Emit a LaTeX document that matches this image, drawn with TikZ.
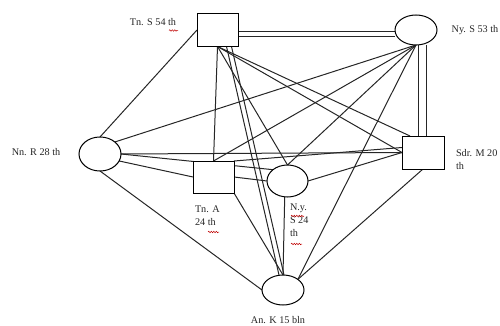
\documentclass[tikz,border=0pt]{standalone}
\usepackage{fontspec}
\setmainfont{Liberation Serif}
\usetikzlibrary{shapes.geometric,backgrounds,decorations.pathmorphing}
\begin{document}
\begin{tikzpicture}[x=1pt,y=-1pt,
  every node/.style={inner sep=0pt, outer sep=0pt},
  box/.style={draw, fill=white, line width=1pt, minimum width=41pt, minimum height=33pt},
  oval/.style={draw, fill=white, ellipse, line width=1pt, minimum width=42pt, minimum height=30pt},
  link/.style={line width=1pt, draw=black!85},
  lbl/.style={font=\fontsize{10.2}{13}\selectfont, align=left, text=black!85},
  squig/.style={red!75!black, line width=0.5pt, decorate,
    decoration={snake, amplitude=0.7pt, segment length=2.5pt}}
]
\useasboundingbox (0,0) rectangle (500,326);

% actors
\node[box] (tns) at (217.5,30) {};
\node[oval] (nys) at (416,30) {};
\node[oval, minimum height=34pt] (nnr) at (100,154) {};
\node[box, minimum height=32pt] (tna) at (213.5,177) {};
\node[oval, minimum width=41pt, minimum height=32pt] (nys24) at (287.5,181) {};
\node[box, minimum width=42pt] (sdr) at (423,152.5) {};
\node[oval] (ank) at (283,290) {};

% names and ages
\node[lbl] (tnsl) at (153,22) {Tn. S 54 th};
\node[lbl] (nysl) at (475,30) {Ny. S 53 th};
\node[lbl] (nnrl) at (36,152) {Nn. R 28 th};
\node[lbl, anchor=north west] (tnal) at (195,206) {Tn. A\\24 th};
\node[lbl, anchor=north west] (nys24l) at (290,204) {N.y.\\S 24\\th};
\node[lbl, anchor=north west] (sdrl) at (456,149) {Sdr. M 20\\th};
\node[lbl] (ankl) at (278,320) {An. K 15 bln};

% ties between the actors
\begin{pgfonlayer}{background}
% double ties
\draw[link] ([yshift=-2pt]tns.east) -- ([yshift=-2pt]nys.west);
\draw[link] ([yshift=-7pt]tns.east) -- ([yshift=-7pt]nys.west);
\draw[link] ([xshift=2pt]nys.south) -- ([xshift=-5pt]sdr.north);
\draw[link] ([xshift=10pt]nys.south) -- ([xshift=3pt]sdr.north);
\draw[link] ([xshift=9pt]tns.south) -- ([xshift=-4pt]ank.north);
\draw[link] ([xshift=14pt]tns.south) -- ([xshift=1pt]ank.north);
% single ties
\draw[link] (tns.west) -- (nnr.north);
\draw[link] (tns.south) -- (tna.north);
\draw[link] (tns.south) -- (nys24.north);
\draw[link] (tns.south) -- ([xshift=-13pt]sdr.north);
\draw[link] (tns.south) -- (sdr.west);
\draw[link] (nys.south) -- (nnr.north east);
\draw[link] (nys.south) -- (tna.north);
\draw[link] (nys.south) -- (nys24.north);
\draw[link] (nys.south) -- (ank.north east);
\draw[link] (nnr.east) -- (sdr.west);
\draw[link] (nnr.-20) -- (tna.west);
\draw[link] (nnr.east) -- (nys24.north west);
\draw[link] (nnr.south) -- (ank.west);
\draw[link] (tna.north east) -- ([yshift=5pt]sdr.west);
\draw[link] (tna.east) -- (nys24.west);
\draw[link] (tna.south east) -- (ank.north);
\draw[link] (nys24.east) -- (sdr.west);
\draw[link] (nys24.-100) -- (ank.north);
\draw[link] (sdr.south) -- (ank.north east);
\end{pgfonlayer}

% spelling marks under words
\draw[squig] (169,30.5) -- (178,30.5);
\draw[squig] (208,232) -- (219,232);
\draw[squig] (291,216) -- (304,216);
\draw[squig] (291,244) -- (302,244);
\end{tikzpicture}
\end{document}
